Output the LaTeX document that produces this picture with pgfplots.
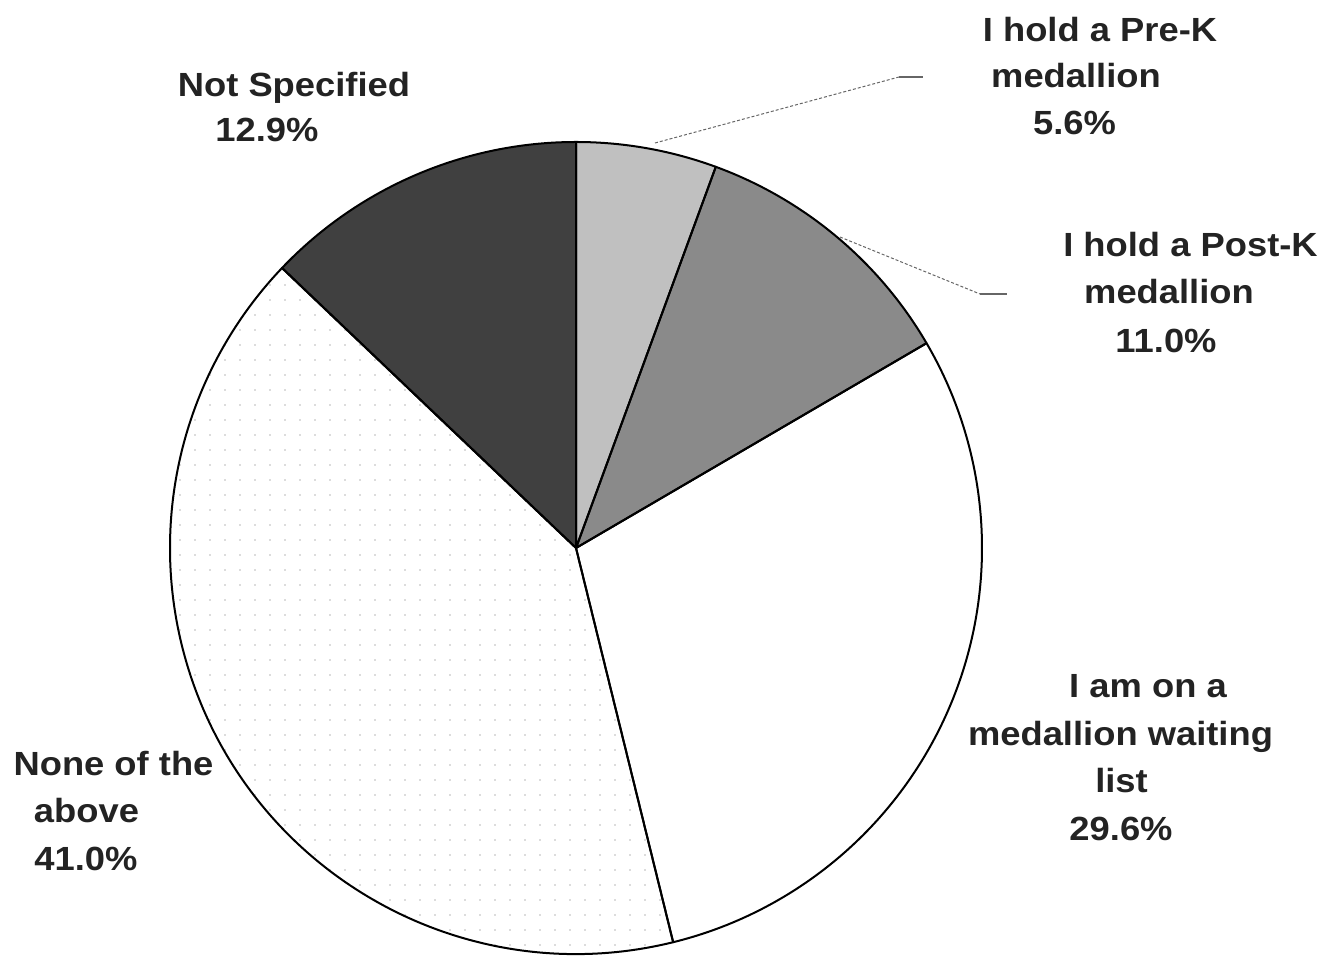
\documentclass[border=0pt]{standalone}
\usepackage{fontspec}
\setmainfont{Liberation Sans}[FakeStretch=1.085]
\usepackage{pgfplots}
\pgfplotsset{compat=1.18}
\usetikzlibrary{patterns.meta}

% shares (percent), clockwise from 12 o'clock
\def\vA{5.6}   % I hold a Pre-K medallion
\def\vB{11.0}  % I hold a Post-K medallion
\def\vC{29.6}  % I am on a medallion waiting list
\def\vD{41.0}  % None of the above
\def\vE{12.9}  % Not Specified
\pgfmathsetmacro\tot{\vA+\vB+\vC+\vD+\vE}
\pgfmathsetmacro\aO{90}
\pgfmathsetmacro\aA{\aO-\vA*360/\tot}
\pgfmathsetmacro\aB{\aA-\vB*360/\tot}
\pgfmathsetmacro\aC{\aB-\vC*360/\tot}
\pgfmathsetmacro\aD{\aC-\vD*360/\tot}
\pgfmathsetmacro\aE{\aD-\vE*360/\tot}

\definecolor{txt}{RGB}{35,35,35}
\definecolor{cPre}{RGB}{192,192,192}
\definecolor{cPost}{RGB}{138,138,138}
\definecolor{cNot}{RGB}{64,64,64}

\begin{document}
\begin{tikzpicture}
\begin{axis}[
  name=pie,
  x=0.5bp, y=0.5bp,
  xmin=0, xmax=1328, ymin=0, ymax=960,
  hide axis, clip=false,
]
\addplot[draw=none, forget plot] coordinates {(576,412)};
% wedges
\fill[cPre]  (axis cs:576,412) -- ++(\aO:203bp) arc[start angle=\aO, end angle=\aA, radius=203bp] -- cycle;
\fill[cPost] (axis cs:576,412) -- ++(\aA:203bp) arc[start angle=\aA, end angle=\aB, radius=203bp] -- cycle;
\fill[white] (axis cs:576,412) -- ++(\aB:203bp) arc[start angle=\aB, end angle=\aC, radius=203bp] -- cycle;
\fill[white] (axis cs:576,412) -- ++(\aC:203bp) arc[start angle=\aC, end angle=\aD, radius=203bp] -- cycle;
\fill[pattern={Dots[distance=7.5bp, radius=0.45bp]}, pattern color=gray!55] (axis cs:576,412) -- ++(\aC:203bp) arc[start angle=\aC, end angle=\aD, radius=203bp] -- cycle;
\fill[cNot]  (axis cs:576,412) -- ++(\aD:203bp) arc[start angle=\aD, end angle=\aE, radius=203bp] -- cycle;
% outlines
\draw[black, line width=1bp, line join=round] (axis cs:576,412) -- ++(\aO:203bp) arc[start angle=\aO, end angle=\aA, radius=203bp] -- cycle;
\draw[black, line width=1bp, line join=round] (axis cs:576,412) -- ++(\aA:203bp) arc[start angle=\aA, end angle=\aB, radius=203bp] -- cycle;
\draw[black, line width=1bp, line join=round] (axis cs:576,412) -- ++(\aB:203bp) arc[start angle=\aB, end angle=\aC, radius=203bp] -- cycle;
\draw[black, line width=1bp, line join=round] (axis cs:576,412) -- ++(\aC:203bp) arc[start angle=\aC, end angle=\aD, radius=203bp] -- cycle;
\draw[black, line width=1bp, line join=round] (axis cs:576,412) -- ++(\aD:203bp) arc[start angle=\aD, end angle=\aE, radius=203bp] -- cycle;
% leader lines
\draw[gray!80!black, line width=0.5bp, dash pattern=on 1.5bp off 1bp] (axis cs:655,817) -- (axis cs:899,883);
\draw[gray!80!black, line width=0.6bp] (axis cs:899,883) -- (axis cs:923,883);
\draw[gray!80!black, line width=0.5bp, dash pattern=on 1.5bp off 1bp] (axis cs:840,723) -- (axis cs:980,666);
\draw[gray!80!black, line width=0.6bp] (axis cs:980,666) -- (axis cs:1007,666);
% labels
\tikzset{lab/.style={anchor=base, inner sep=0pt, text=txt, font=\fontsize{16.75bp}{20bp}\selectfont\bfseries}}
\node[lab] at (axis cs:1100,918) {I hold a Pre-K};
\node[lab] at (axis cs:1076,872) {medallion};
\node[lab] at (axis cs:1074.5,825) {5.6\%};
\node[lab] at (axis cs:1190.5,703) {I hold a Post-K};
\node[lab] at (axis cs:1169,657) {medallion};
\node[lab] at (axis cs:1166,608) {11.0\%};
\node[lab] at (axis cs:1148,263) {I am on a};
\node[lab] at (axis cs:1120.5,215) {medallion waiting};
\node[lab] at (axis cs:1121.5,168) {list};
\node[lab] at (axis cs:1121,120) {29.6\%};
\node[lab] at (axis cs:113.5,185) {None of the};
\node[lab] at (axis cs:86.5,138) {above};
\node[lab] at (axis cs:86,90) {41.0\%};
\node[lab] at (axis cs:294,863) {Not Specified};
\node[lab] at (axis cs:267,818) {12.9\%};
\end{axis}
\pgfresetboundingbox
\useasboundingbox (pie.south west) rectangle (pie.north east);
\end{tikzpicture}
\end{document}
